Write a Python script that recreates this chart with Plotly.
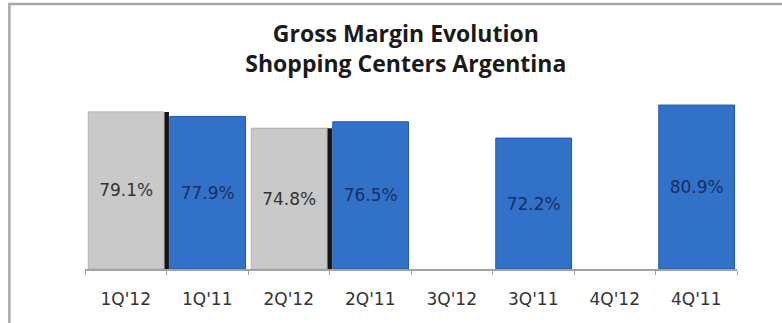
import plotly.graph_objects as go

# Quarter order along the category axis
quarters = ["1Q'12", "1Q'11", "2Q'12", "2Q'11", "3Q'12", "3Q'11", "4Q'12", "4Q'11"]

# 2012 quarters reported so far
q2012 = ["1Q'12", "2Q'12"]
margin_2012 = [79.1, 74.8]

# 2011 quarters
q2011 = ["1Q'11", "2Q'11", "3Q'11", "4Q'11"]
margin_2011 = [77.9, 76.5, 72.2, 80.9]

# value axis starts above zero; bars rise from this floor so that the
# in-bar labels sit in the middle of the visible column
Y_FLOOR = 37.7
Y_TOP = 87.5

BAR_W = 0.93
BAR_OFF = -0.46


def lengths(values):
    return [v - Y_FLOOR for v in values]


fig = go.Figure()

# dark side face behind the grey bars
fig.add_trace(go.Bar(
    x=q2012, y=lengths(margin_2012), base=Y_FLOOR,
    width=BAR_W, offset=BAR_OFF + 0.06,
    marker=dict(color="#141414", line=dict(width=0)),
    hoverinfo="skip", showlegend=False,
))

fig.add_trace(go.Bar(
    x=q2012, y=lengths(margin_2012), base=Y_FLOOR,
    width=BAR_W, offset=BAR_OFF,
    marker=dict(color="#c9c9c9", line=dict(color="#b4b4b4", width=1)),
    text=[f"{v:.1f}%" for v in margin_2012],
    textposition="inside", insidetextanchor="middle", textangle=0,
    insidetextfont=dict(family="DejaVu Sans", size=17, color="#333333"),
    name="2012", showlegend=False,
))

fig.add_trace(go.Bar(
    x=q2011, y=lengths(margin_2011), base=Y_FLOOR,
    width=BAR_W, offset=BAR_OFF,
    marker=dict(color="#3271c8", line=dict(color="#2058a8", width=1)),
    text=[f"{v:.1f}%" for v in margin_2011],
    textposition="inside", insidetextanchor="middle", textangle=0,
    insidetextfont=dict(family="DejaVu Sans", size=17, color="#172f63"),
    name="2011", showlegend=False,
))

fig.update_layout(
    width=782, height=323,
    margin=dict(l=85, r=45, t=80, b=54),
    paper_bgcolor="white", plot_bgcolor="white",
    barmode="overlay",
    title=dict(
        text="Gross Margin Evolution<br>Shopping Centers Argentina",
        x=0.519, xref="container", xanchor="center",
        y=0.87, yref="container", yanchor="top",
        font=dict(family="Open Sans", size=23, color="#1a1a1a", weight="bold"),
    ),
    xaxis=dict(
        type="category", categoryorder="array", categoryarray=quarters,
        range=[-0.5, 7.5],
        showline=True, linecolor="#a3a3a3", linewidth=2,
        ticks="outside", tickson="boundaries", ticklen=4, tickcolor="#a3a3a3",
        tickfont=dict(family="DejaVu Sans", size=17, color="#333333"),
        ticklabelstandoff=14,
        showgrid=False, zeroline=False,
    ),
    yaxis=dict(
        range=[Y_FLOOR, Y_TOP], visible=False, showgrid=False, zeroline=False,
    ),
    shapes=[dict(
        type="rect", xref="paper", yref="paper",
        x0=-0.116, x1=1.3, y0=-0.5, y1=1.402,
        line=dict(color="#a8a8a8", width=2.5), fillcolor="rgba(0,0,0,0)",
        layer="below",
    )],
)

fig.write_html("out.html")
